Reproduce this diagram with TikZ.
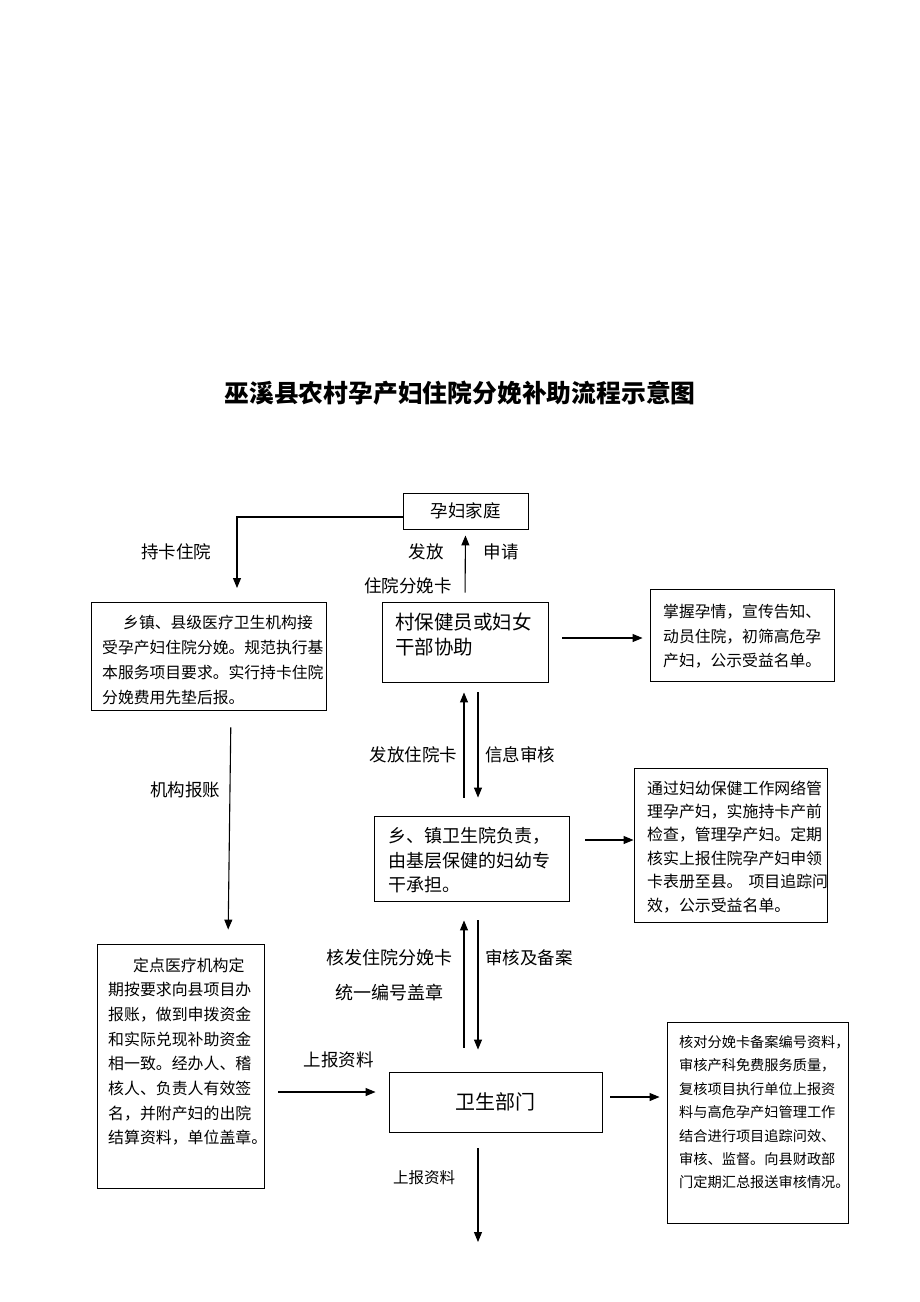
\documentclass[tikz,border=0pt]{standalone}
\usepackage{fontspec}
\setmainfont{Noto Sans CJK SC}
\usetikzlibrary{arrows.meta}
\begin{document}
\begin{tikzpicture}[x=1pt,y=-1pt,
  box/.style={draw, line width=0.9pt, inner sep=0pt},
  arr/.style={draw, line width=1.1pt, -{Triangle[length=10pt,width=8pt]}},
  lab/.style={inner sep=0pt, font=\fontsize{17.5}{20}\selectfont},
  para/.style={inner sep=0pt, anchor=north west, align=left}]
\useasboundingbox (0,0) rectangle (920,1302);
\fill[white] (0,0) rectangle (920,1302);

% title
\node[inner sep=0pt, font=\fontsize{24.8}{28}\selectfont\bfseries] (title) at (460,393) {巫溪县农村孕产妇住院分娩补助流程示意图};

% boxes
\node[box, minimum width=125pt, minimum height=36pt, font=\fontsize{17.5}{20}\selectfont] (fam) at (465.5,511) {孕妇家庭};
\node[box, minimum width=166pt, minimum height=80pt] (vil) at (465,642) {};
\node[box, minimum width=184pt, minimum height=92pt] (r1) at (742,635) {};
\node[box, minimum width=235pt, minimum height=108pt] (l1) at (208.5,656) {};
\node[box, minimum width=195pt, minimum height=85pt] (twn) at (471.5,858.5) {};
\node[box, minimum width=193pt, minimum height=154pt] (r2) at (730.5,845) {};
\node[box, minimum width=167pt, minimum height=244pt] (l2) at (180.5,1066) {};
\node[box, minimum width=213pt, minimum height=60pt, font=\fontsize{20}{24}\selectfont] (dept) at (495.5,1102) {卫生部门};
\node[box, minimum width=181pt, minimum height=201pt] (r3) at (757.5,1122.5) {};

% box texts
\node[para, font=\fontsize{19.5}{25.5}\selectfont] (tvil) at (395,612.6) {村保健员或妇女\\干部协助};
\node[para, font=\fontsize{15.8}{24.5}\selectfont] (tr1) at (663,604.4) {掌握孕情，宣传告知、\\动员住院，初筛高危孕\\产妇，公示受益名单。};
\node[para, font=\fontsize{15.8}{25}\selectfont] (tl1) at (102,615.4) {\hspace*{21pt}乡镇、县级医疗卫生机构接\\受孕产妇住院分娩。规范执行基\\本服务项目要求。实行持卡住院\\分娩费用先垫后报。};
\node[para, font=\fontsize{18}{24.5}\selectfont] (ttwn) at (388,827.4) {乡、镇卫生院负责，\\由基层保健的妇幼专\\干承担。};
\node[para, font=\fontsize{15.9}{23.4}\selectfont] (tr2) at (647,780.4) {通过妇幼保健工作网络管\\理孕产妇，实施持卡产前\\检查，管理孕产妇。定期\\核实上报住院孕产妇申领\\卡表册至县。\hspace{6pt}项目追踪问\\效，公示受益名单。};
\node[para, font=\fontsize{15.9}{24.7}\selectfont] (tl2) at (108,957.4) {\hspace*{25pt}定点医疗机构定\\期按要求向县项目办\\报账，做到申拨资金\\和实际兑现补助资金\\相一致。经办人、稽\\核人、负责人有效签\\名，并附产妇的出院\\结算资料，单位盖章。};
\node[para, font=\fontsize{14.2}{23.4}\selectfont] (tr3) at (679,1035.2) {核对分娩卡备案编号资料，\\审核产科免费服务质量，\\复核项目执行单位上报资\\料与高危孕产妇管理工作\\结合进行项目追踪问效、\\审核、监督。向县财政部\\门定期汇总报送审核情况。};

% labels
\node[lab] (lb1) at (176,552) {持卡住院};
\node[lab] (lb2) at (426,552) {发放};
\node[lab] (lb3) at (501,552) {申请};
\node[lab] (lb4) at (408,586) {住院分娩卡};
\node[lab] (lb5) at (185,790) {机构报账};
\node[lab] (lb6) at (413.5,755) {发放住院卡};
\node[lab] (lb7) at (520,755) {信息审核};
\node[lab, font=\fontsize{18}{20}\selectfont] (lb8) at (389.5,958) {核发住院分娩卡};
\node[lab, font=\fontsize{18}{20}\selectfont] (lb9) at (389.5,993) {统一编号盖章};
\node[lab] (lb10) at (529,958) {审核及备案};
\node[lab] (lb11) at (338.5,1060) {上报资料};
\node[lab, font=\fontsize{15.5}{18}\selectfont] (lb12) at (424,1178) {上报资料};

% helper coordinates
\coordinate (a1) at (237,588);
\coordinate (u1) at ([xshift=-1pt]vil.south);
\coordinate (d1) at ([xshift=13pt]vil.south);
\coordinate (u2) at ([xshift=-7.5pt]twn.south);
\coordinate (d2) at ([xshift=6.5pt]twn.south);
\coordinate (b1) at ([xshift=22.5pt]l1.south);
\coordinate (b2) at ([xshift=47.5pt]l2.north);
\coordinate (e1) at ([yshift=18.5pt]twn.east);
\coordinate (e2) at ([yshift=4pt]vil.east);
\coordinate (e3) at ([yshift=10pt]dept.west);
\coordinate (e4) at ([yshift=5pt]dept.east);
\coordinate (s1) at ([xshift=-17.5pt]dept.south);
\coordinate (end) at (478,1242);

% connectors
\draw[arr] ([yshift=-6pt]fam.west) -| (a1);
\draw[arr, shorten <=9pt, shorten >=6pt] (vil.north) -- (fam.south);
\draw[arr, shorten <=14pt, shorten >=7pt] (e2) -- (e2 -| r1.west);
\draw[arr, shorten <=18pt, shorten >=10pt] (u1 |- twn.north) -- (u1);
\draw[arr, shorten <=10pt, shorten >=18pt] (d1) -- (d1 |- twn.north);
\draw[arr, shorten <=16pt, shorten >=0pt] (e1) -- (e1 -| r2.west);
\draw[arr, shorten <=24pt, shorten >=19pt] (u2 |- dept.north) -- (u2);
\draw[arr, shorten <=19pt, shorten >=22pt] (d2) -- (d2 |- dept.north);
\draw[arr, shorten <=17pt, shorten >=14pt] (b1) -- (b2);
\draw[arr, shorten <=14pt, shorten >=13pt] (e3 -| l2.east) -- (e3);
\draw[arr, shorten <=8pt, shorten >=7pt] (e4) -- (e4 -| r3.west);
\draw[arr, shorten <=16pt] (s1) -- (end);
\end{tikzpicture}
\end{document}
